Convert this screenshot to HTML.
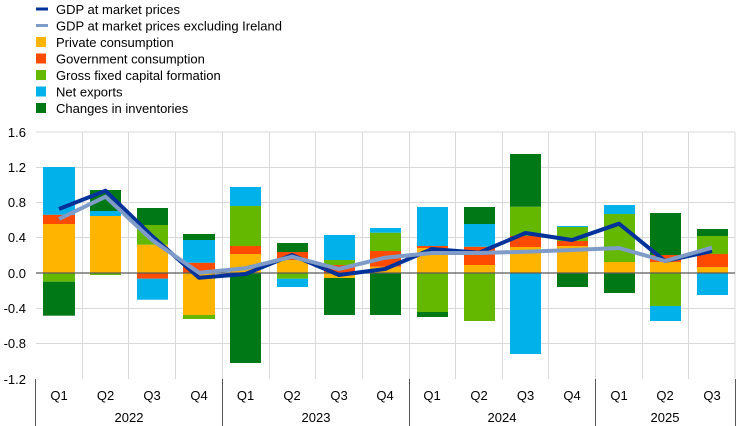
<!DOCTYPE html>
<html><head><meta charset="utf-8"><style>
body{margin:0;background:#fff}
svg{display:block;font-family:"Liberation Sans",sans-serif}
</style></head><body>
<svg width="744" height="426" viewBox="0 0 744 426">
<g stroke="#d9d9d9" stroke-width="1">
<line x1="36" y1="132" x2="735" y2="132"/>
<line x1="36" y1="167.5" x2="735" y2="167.5"/>
<line x1="36" y1="202.5" x2="735" y2="202.5"/>
<line x1="36" y1="237.5" x2="735" y2="237.5"/>
<line x1="36" y1="308.5" x2="735" y2="308.5"/>
<line x1="36" y1="343.5" x2="735" y2="343.5"/>
<line x1="82.5" y1="132" x2="82.5" y2="379"/><line x1="128.5" y1="132" x2="128.5" y2="379"/>
<line x1="175.5" y1="132" x2="175.5" y2="379"/><line x1="222.5" y1="132" x2="222.5" y2="379"/>
<line x1="269.5" y1="132" x2="269.5" y2="379"/><line x1="315.5" y1="132" x2="315.5" y2="379"/>
<line x1="362.5" y1="132" x2="362.5" y2="379"/><line x1="409.5" y1="132" x2="409.5" y2="379"/>
<line x1="455.5" y1="132" x2="455.5" y2="379"/><line x1="502.5" y1="132" x2="502.5" y2="379"/>
<line x1="548.5" y1="132" x2="548.5" y2="379"/><line x1="595.5" y1="132" x2="595.5" y2="379"/>
<line x1="642.5" y1="132" x2="642.5" y2="379"/><line x1="688.5" y1="132" x2="688.5" y2="379"/>
<line x1="735" y1="132" x2="735" y2="379"/>
</g>
<!-- bars -->
<g>
<!-- Q1 22 x43 -->
<rect x="43" y="224" width="32" height="49" fill="#ffb400"/><rect x="43" y="214.7" width="32" height="9.3" fill="#ff4b00"/><rect x="43" y="167" width="32" height="47.7" fill="#00b1ea"/>
<rect x="43" y="273" width="32" height="8.7" fill="#65b800"/><rect x="43" y="281.7" width="32" height="34" fill="#007816"/>
<!-- Q2 22 -->
<rect x="90" y="216" width="31" height="57" fill="#ffb400"/><rect x="90" y="211" width="31" height="5" fill="#00b1ea"/><rect x="90" y="190" width="31" height="21" fill="#007816"/><rect x="90" y="273" width="31" height="2" fill="#65b800"/>
<!-- Q3 22 -->
<rect x="137" y="244.7" width="31" height="28.3" fill="#ffb400"/><rect x="137" y="225" width="31" height="19.7" fill="#65b800"/><rect x="137" y="208" width="31" height="17" fill="#007816"/>
<rect x="137" y="273" width="31" height="5.7" fill="#ff4b00"/><rect x="137" y="278.7" width="31" height="21" fill="#00b1ea"/>
<!-- Q4 22 -->
<rect x="183" y="262.7" width="32" height="10.3" fill="#ff4b00"/><rect x="183" y="240" width="32" height="22.7" fill="#00b1ea"/><rect x="183" y="234" width="32" height="6" fill="#007816"/>
<rect x="183" y="273" width="32" height="42" fill="#ffb400"/><rect x="183" y="315" width="32" height="4" fill="#65b800"/>
<!-- Q1 23 -->
<rect x="230" y="254" width="31" height="19" fill="#ffb400"/><rect x="230" y="246" width="31" height="8" fill="#ff4b00"/><rect x="230" y="206" width="31" height="40" fill="#65b800"/><rect x="230" y="187" width="31" height="19" fill="#00b1ea"/>
<rect x="230" y="273" width="31" height="90" fill="#007816"/>
<!-- Q2 23 -->
<rect x="277" y="260" width="31" height="13" fill="#ffb400"/><rect x="277" y="252" width="31" height="8" fill="#ff4b00"/><rect x="277" y="243" width="31" height="9" fill="#007816"/>
<rect x="277" y="273" width="31" height="5.7" fill="#65b800"/><rect x="277" y="278.7" width="31" height="8.3" fill="#00b1ea"/>
<!-- Q3 23 -->
<rect x="324" y="265" width="31" height="8" fill="#ff4b00"/><rect x="324" y="260" width="31" height="5" fill="#65b800"/><rect x="324" y="235" width="31" height="25" fill="#00b1ea"/>
<rect x="324" y="273" width="31" height="5" fill="#ffb400"/><rect x="324" y="278" width="31" height="37" fill="#007816"/>
<!-- Q4 23 -->
<rect x="370" y="266.7" width="31" height="6.3" fill="#ffb400"/><rect x="370" y="251" width="31" height="15.7" fill="#ff4b00"/><rect x="370" y="232.7" width="31" height="18.3" fill="#65b800"/><rect x="370" y="228" width="31" height="4.7" fill="#00b1ea"/>
<rect x="370" y="273" width="31" height="42" fill="#007816"/>
<!-- Q1 24 -->
<rect x="417" y="248" width="31" height="25" fill="#ffb400"/><rect x="417" y="246" width="31" height="2" fill="#ff4b00"/><rect x="417" y="207" width="31" height="39" fill="#00b1ea"/>
<rect x="417" y="273" width="31" height="39" fill="#65b800"/><rect x="417" y="312" width="31" height="5" fill="#007816"/>
<!-- Q2 24 -->
<rect x="464" y="265" width="31" height="8" fill="#ffb400"/><rect x="464" y="246.7" width="31" height="18.3" fill="#ff4b00"/><rect x="464" y="224" width="31" height="22.7" fill="#00b1ea"/><rect x="464" y="207" width="31" height="17" fill="#007816"/>
<rect x="464" y="273" width="31" height="48" fill="#65b800"/>
<!-- Q3 24 -->
<rect x="510" y="247" width="31" height="26" fill="#ffb400"/><rect x="510" y="236" width="31" height="11" fill="#ff4b00"/><rect x="510" y="206.7" width="31" height="29.3" fill="#65b800"/><rect x="510" y="154" width="31" height="52.7" fill="#007816"/>
<rect x="510" y="273" width="31" height="81" fill="#00b1ea"/>
<!-- Q4 24 -->
<rect x="557" y="246" width="31" height="27" fill="#ffb400"/><rect x="557" y="241" width="31" height="5" fill="#ff4b00"/><rect x="557" y="227" width="31" height="14" fill="#65b800"/><rect x="557" y="226" width="31" height="1" fill="#00b1ea"/>
<rect x="557" y="273" width="31" height="14" fill="#007816"/>
<!-- Q1 25 -->
<rect x="604" y="262" width="31" height="11" fill="#ffb400"/><rect x="604" y="214" width="31" height="48" fill="#65b800"/><rect x="604" y="205" width="31" height="9" fill="#00b1ea"/>
<rect x="604" y="273" width="31" height="20" fill="#007816"/>
<!-- Q2 25 -->
<rect x="650" y="262" width="31" height="11" fill="#ffb400"/><rect x="650" y="255" width="31" height="7" fill="#ff4b00"/><rect x="650" y="213" width="31" height="42" fill="#007816"/>
<rect x="650" y="273" width="31" height="33" fill="#65b800"/><rect x="650" y="306" width="31" height="15" fill="#00b1ea"/>
<!-- Q3 25 -->
<rect x="697" y="267" width="31" height="6" fill="#ffb400"/><rect x="697" y="254" width="31" height="13" fill="#ff4b00"/><rect x="697" y="236" width="31" height="18" fill="#65b800"/><rect x="697" y="229" width="31" height="7" fill="#007816"/>
<rect x="697" y="273" width="31" height="22" fill="#00b1ea"/>
</g>
<line x1="36" y1="273" x2="735" y2="273" stroke="#595959" stroke-width="1.2"/>
<polyline fill="none" stroke="#003299" stroke-width="4" stroke-linejoin="round" points="59,209 105.5,190.7 152,236 199,277.7 245.5,274 292,255 339,275 385,269 432,249 479,252.7 525.5,233 572,240 619,223.7 665,261 712,251"/>
<polyline fill="none" stroke="#7f9bc8" stroke-width="4" stroke-linejoin="round" points="59,219 105.5,196.7 152,240 199,272.7 245.5,268.3 292,256.7 339,269 385,257.7 432,253 479,253 525.5,251.7 572,250 619,248 665,261 712,247.7"/>
<!-- axis -->
<g stroke="#595959" stroke-width="1">
<line x1="35.5" y1="379" x2="35.5" y2="426"/><line x1="222.5" y1="379" x2="222.5" y2="426"/>
<line x1="409.5" y1="379" x2="409.5" y2="426"/><line x1="595.5" y1="379" x2="595.5" y2="426"/>
<line x1="735.5" y1="379" x2="735.5" y2="426"/>
</g>
<g font-size="13" fill="#000" text-anchor="end">
<text x="26" y="137">1.6</text><text x="26" y="172">1.2</text><text x="26" y="207">0.8</text><text x="26" y="242">0.4</text>
<text x="26" y="278">0.0</text><text x="26" y="313">-0.4</text><text x="26" y="348">-0.8</text><text x="26" y="384">-1.2</text>
</g>
<g font-size="13" fill="#000" text-anchor="middle">
<text x="59" y="400">Q1</text><text x="105.5" y="400">Q2</text><text x="152" y="400">Q3</text><text x="199" y="400">Q4</text>
<text x="245.5" y="400">Q1</text><text x="292" y="400">Q2</text><text x="339" y="400">Q3</text><text x="385" y="400">Q4</text>
<text x="432" y="400">Q1</text><text x="479" y="400">Q2</text><text x="525.5" y="400">Q3</text><text x="572" y="400">Q4</text>
<text x="619" y="400">Q1</text><text x="665" y="400">Q2</text><text x="712" y="400">Q3</text>
<text x="129" y="422">2022</text><text x="316" y="422">2023</text><text x="502" y="422">2024</text><text x="665" y="422">2025</text>
</g>
<!-- legend -->
<rect x="36" y="7.5" width="12" height="3" fill="#003299"/>
<rect x="36" y="24" width="12" height="3" fill="#7f9bc8"/>
<rect x="36" y="37" width="10" height="10" fill="#ffb400"/>
<rect x="36" y="53.5" width="10" height="10" fill="#ff4b00"/>
<rect x="36" y="70" width="10" height="10" fill="#65b800"/>
<rect x="36" y="86.5" width="10" height="10" fill="#00b1ea"/>
<rect x="36" y="103" width="10" height="10" fill="#007816"/>
<g font-size="13" fill="#000">
<text x="56" y="14">GDP at market prices</text>
<text x="56" y="30.5">GDP at market prices excluding Ireland</text>
<text x="56" y="47">Private consumption</text>
<text x="56" y="63.5">Government consumption</text>
<text x="56" y="80">Gross fixed capital formation</text>
<text x="56" y="96.5">Net exports</text>
<text x="56" y="113">Changes in inventories</text>
</g>
</svg>
</body></html>
